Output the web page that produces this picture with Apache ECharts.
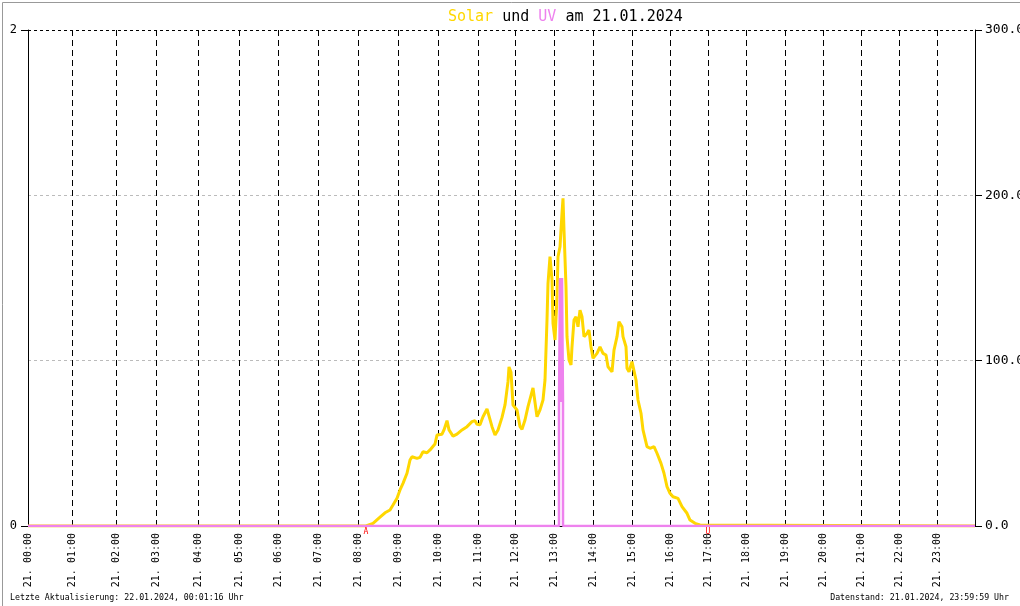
<!DOCTYPE html>
<html>
<head>
<meta charset="utf-8">
<script src="https://cdn.jsdelivr.net/npm/echarts@6/dist/echarts.min.js"></script>
<style>
  html, body { margin: 0; padding: 0; background: #fff; }
  #chart { width: 1020px; height: 606px; }
</style>
</head>
<body>
<div id="chart"></div>
<script>
// ---- data ----
const dayLabel = '21.';
const hourNames = ['00','01','02','03','04','05','06','07','08','09','10','11',
                   '12','13','14','15','16','17','18','19','20','21','22','23'];
// number of logged samples per hour (x axis is sample based)
const samplesPerHour = [44,44,40,42,41,39,40,40,40,40,40,37,39,39,39,38,38,38,39,38,38,38,38,38];
// Solar [sample index, W/m²]
const solarData = [
  [0,0],[338,0],[339,0.6],[345,1.6],[352,5.3],[357,8.0],[362,9.7],[365,12.7],[369,16.8],
  [372,21.8],[375,25.8],[379,31.9],[382,39.9],[384,41.9],[389,40.9],[392,41.5],[395,44.9],
  [399,44.3],[402,46.0],[407,49.6],[409,55.0],[414,55.5],[416,58.1],[419,63.7],[421,58.1],
  [425,54.4],[429,55.6],[434,58.1],[439,60.1],[441,59.1],[444,63.1],[447,63.7],[449,61.5],
  [452,61.3],[455,66.1],[459,70.8],[460,70.2],[464,60.1],[467,55.0],[470,58.1],[474,65.7],
  [477,73.2],[480,87.3],[481,96.2],[483,93.0],[485,73.2],[489,70.2],[492,60.1],[494,58.5],
  [497,64.1],[500,72.2],[503,79.0],[505,83.5],[509,66.1],[512,70.2],[515,76.2],[517,88.3],
  [519,124.6],[520,146.8],[522,162.9],[524,148.8],[525,122.6],[527,112.5],[529,138.7],
  [530,162.9],[532,168.9],[534,189.1],[535,198.2],[536,179.0],[538,144.7],[539,114.5],
  [541,100.4],[543,97.4],[544,108.4],[546,124.6],[548,126.6],[550,120.5],[552,130.6],
  [554,126.6],[556,114.5],[559,116.5],[561,118.5],[563,108.4],[565,101.4],[569,104.4],
  [572,108.4],[575,104.4],[578,103.4],[580,96.3],[584,93.3],[586,106.4],[589,114.5],
  [591,123.6],[594,120.5],[595,114.5],[598,108.4],[599,95.4],[601,93.3],[604,99.4],
  [606,99.4],[608,88.3],[610,76.2],[613,68.2],[615,58.1],[619,48.0],[622,47.0],[626,48.0],
  [629,44.0],[633,37.9],[636,31.9],[639,23.8],[642,19.8],[645,17.7],[650,16.7],[654,11.7],
  [659,7.7],[662,3.6],[667,1.6],[672,0.6],[674,0],[947,0]
];
// UV index [sample index, UV]
const uvData = [
  [0,0],[531,0],[531,0.5],[532,1.0],[533,0.5],[534,1.0],[535,1.0],[535,0.5],[535,0],[947,0]
];
// sunrise (A) / sunset (U) marks [label, sample index]
const sunMarks = [['A',338],['U',680]];
const leftTicks = [0, 2];
const rightTicks = [0, 100, 200, 300];

// ---- build category axis (one category per sample) ----
const categories = [];
const hourStartIdx = new Set();
samplesPerHour.forEach((n, h) => {
  for (let k = 0; k < n; k++) {
    if (k === 0) { hourStartIdx.add(categories.length); categories.push(dayLabel + ' ' + hourNames[h] + ':00'); }
    else { const m = Math.floor(k * 60 / n); categories.push(hourNames[h] + ':' + String(m).padStart(2,'0')); }
  }
});
categories.push('24:00');

const MONO = '"DejaVu Sans Mono", "Liberation Mono", monospace';
const chart = echarts.init(document.getElementById('chart'), null, {renderer: 'canvas'});

chart.setOption({
  animation: false,
  backgroundColor: '#fff',
  title: {
    left: 443, top: 5,
    text: '{s|Solar} {b|und} {u|UV} {b|am 21.01.2024}',
    textStyle: {
      fontFamily: MONO, fontSize: 15, fontWeight: 'normal', color: '#000',
      rich: {
        s: {color: '#FFD700', fontFamily: MONO, fontSize: 15},
        u: {color: '#EE82EE', fontFamily: MONO, fontSize: 15},
        b: {color: '#000', fontFamily: MONO, fontSize: 15}
      }
    }
  },
  grid: {left: 28, right: 45, top: 30, bottom: 80, containLabel: false, outerBoundsMode: 'none'},
  xAxis: {
    type: 'category',
    data: categories,
    boundaryGap: false,
    axisLine: {show: true, lineStyle: {color: '#000', width: 1}},
    axisTick: {show: false},
    axisLabel: {
      rotate: 90, margin: 7, fontFamily: MONO, fontSize: 10, color: '#000',
      interval: (i) => hourStartIdx.has(i)
    },
    splitLine: {
      show: true,
      interval: (i) => hourStartIdx.has(i) && i !== 0,
      lineStyle: {color: '#000', width: 1, type: [6, 4]}
    }
  },
  yAxis: [
    {
      type: 'value', position: 'left', min: leftTicks[0], max: leftTicks[1], interval: 2,
      axisLine: {show: true, lineStyle: {color: '#000'}},
      axisTick: {show: true, inside: false, length: 7, lineStyle: {color: '#000'}},
      axisLabel: {margin: 11, fontFamily: MONO, fontSize: 12, color: '#000'},
      splitLine: {show: false}
    },
    {
      type: 'value', position: 'right', min: rightTicks[0], max: rightTicks[3], interval: 100,
      axisLine: {show: true, lineStyle: {color: '#000'}},
      axisTick: {show: true, inside: false, length: 7, lineStyle: {color: '#000'}},
      axisLabel: {margin: 10, fontFamily: MONO, fontSize: 13, color: '#000',
                  formatter: (v) => v.toFixed(1)},
      splitLine: {show: true, lineStyle: {color: ['#000', '#bbb', '#bbb', '#000'], width: 1, type: [3, 3]}}
    }
  ],
  series: [
    {
      name: 'Solar', type: 'line', yAxisIndex: 1, data: solarData,
      showSymbol: false, symbol: 'none', z: 3,
      lineStyle: {color: '#FFD700', width: 3},
      markPoint: {
        symbol: 'circle', symbolSize: 0, silent: true,
        label: {show: true, position: 'inside', offset: [0, 6], formatter: '{b}',
                color: '#ff0000', fontFamily: MONO, fontSize: 8},
        data: sunMarks.map(m => ({name: m[0], coord: [m[1], 0]}))
      }
    },
    {
      name: 'UV', type: 'line', yAxisIndex: 0, data: uvData,
      showSymbol: false, symbol: 'none', z: 4,
      lineStyle: {color: '#EE82EE', width: 2.5}
    }
  ],
  graphic: [
    {type: 'text', left: 10, top: 594, z: 10,
     style: {text: 'Letzte Aktualisierung: 22.01.2024, 00:01:16 Uhr', fill: '#000',
             font: '8.25px "DejaVu Sans Mono"'}},
    {type: 'text', right: 11, top: 594, z: 10,
     style: {text: 'Datenstand: 21.01.2024, 23:59:59 Uhr', fill: '#000',
             font: '8.25px "DejaVu Sans Mono"'}},
    {type: 'rect', left: 0, top: 0, z: 20, silent: true,
     shape: {x: 0.5, y: 0.5, width: 1019, height: 605},
     style: {fill: 'none', stroke: '#999', lineWidth: 1}}
  ]
});
</script>
</body>
</html>
